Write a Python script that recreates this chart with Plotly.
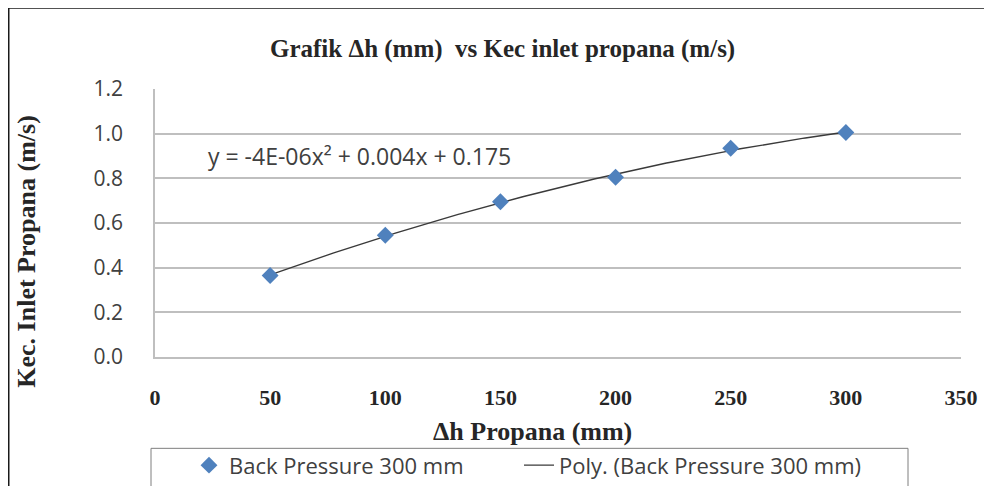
import numpy as np
import plotly.graph_objects as go

# Data
dh_mm = [50, 100, 150, 200, 250, 300]
kec_inlet = [0.365, 0.545, 0.695, 0.805, 0.935, 1.005]
series_name = "Back Pressure 300 mm"
trend_name = "Poly. (Back Pressure 300 mm)"
equation_text = "y = -4E-06x\u00b2 + 0.004x + 0.175"
title_text = "Grafik \u0394h (mm)  vs Kec inlet propana (m/s)"
x_title = "\u0394h Propana (mm)"
y_title = "Kec. Inlet Propana (m/s)"

# Polynomial (order 2) trendline fitted to the data
coef = np.polyfit(dh_mm, kec_inlet, 2)
xt = np.linspace(min(dh_mm), max(dh_mm), 200)
yt = np.polyval(coef, xt)

# page body has an 8px margin; work in screen pixels and convert
OFF = 8
W, H = 984, 478
L, T = 155 - OFF, 89 - OFF
plot_right, plot_bottom = 961 - OFF, 357.5 - OFF
R, B = W - plot_right, H - plot_bottom
pw, ph = plot_right - L, plot_bottom - T

def px(xs):
    return (xs - OFF - L) / pw

def py(ys):
    return (plot_bottom - (ys - OFF)) / ph

serif = "Liberation Serif"
sans = "Open Sans"
legend_font = dict(family=sans, size=22, color="#404040")

fig = go.Figure()
fig.add_trace(go.Scatter(
    x=xt, y=yt, mode="lines", name=trend_name, legend="legend2",
    line=dict(color="#3a3a3a", width=1.4),
))
fig.add_trace(go.Scatter(
    x=dh_mm, y=kec_inlet, mode="markers", name=series_name, legend="legend",
    marker=dict(symbol="diamond", size=13, color="#4F81BD",
                line=dict(width=0)),
))

fig.update_layout(
    width=W, height=H,
    margin=dict(l=L, r=R, t=T, b=B, autoexpand=False),
    paper_bgcolor="white", plot_bgcolor="white",
    showlegend=True,
    legend=dict(
        orientation="h", x=px(189), y=py(445), xanchor="left", yanchor="top",
        borderwidth=0, bgcolor="rgba(0,0,0,0)", font=legend_font,
    ),
    legend2=dict(
        orientation="h", x=px(519), y=py(445), xanchor="left", yanchor="top",
        borderwidth=0, bgcolor="rgba(0,0,0,0)", font=legend_font,
    ),
    xaxis=dict(
        range=[0, 350], dtick=50, tick0=0, showgrid=False, zeroline=False,
        showline=True, linecolor="#BFBFBF", linewidth=1.5, ticks="",
        ticklabelstandoff=20,
        tickfont=dict(family=serif, size=22, color="#262626", weight="bold"),
    ),
    yaxis=dict(
        range=[0, 1.2], dtick=0.2, tick0=0, tickformat=".1f",
        showgrid=True, gridcolor="#BFBFBF", gridwidth=1.5, zeroline=False,
        showline=True, linecolor="#BFBFBF", linewidth=1.5, ticks="",
        ticklabelstandoff=26,
        tickfont=dict(family=sans, size=21, color="#404040"),
    ),
    annotations=[
        dict(text="<b>" + title_text + "</b>", xref="paper", yref="paper",
             x=px(502), y=py(49), xanchor="center", yanchor="middle",
             showarrow=False, font=dict(family=serif, size=25, color="#262626")),
        dict(text="<b>" + x_title + "</b>", xref="paper", yref="paper",
             x=px(532), y=py(432), xanchor="center", yanchor="middle",
             showarrow=False, font=dict(family=serif, size=26, color="#262626")),
        dict(text="<b>" + y_title + "</b>", xref="paper", yref="paper",
             x=px(27), y=py(252), xanchor="center", yanchor="middle",
             textangle=-90, showarrow=False,
             font=dict(family=serif, size=26, color="#262626")),
        dict(text=equation_text, xref="x", yref="y",
             x=(206 - OFF - L) / pw * 350, y=0.9, xanchor="left", yanchor="middle",
             showarrow=False, font=dict(family=sans, size=23, color="#404040")),
    ],
    shapes=[
        dict(type="rect", xref="paper", yref="paper",
             x0=px(8), x1=px(1010), y0=py(520), y1=py(7),
             line=dict(color="#1a1a1a", width=3), fillcolor="rgba(0,0,0,0)",
             layer="below"),
        dict(type="rect", xref="paper", yref="paper",
             x0=px(151), x1=px(908), y0=py(500), y1=py(449),
             line=dict(color="#7f7f7f", width=1), fillcolor="rgba(0,0,0,0)",
             layer="below"),
    ],
)

fig.write_html("out.html")
